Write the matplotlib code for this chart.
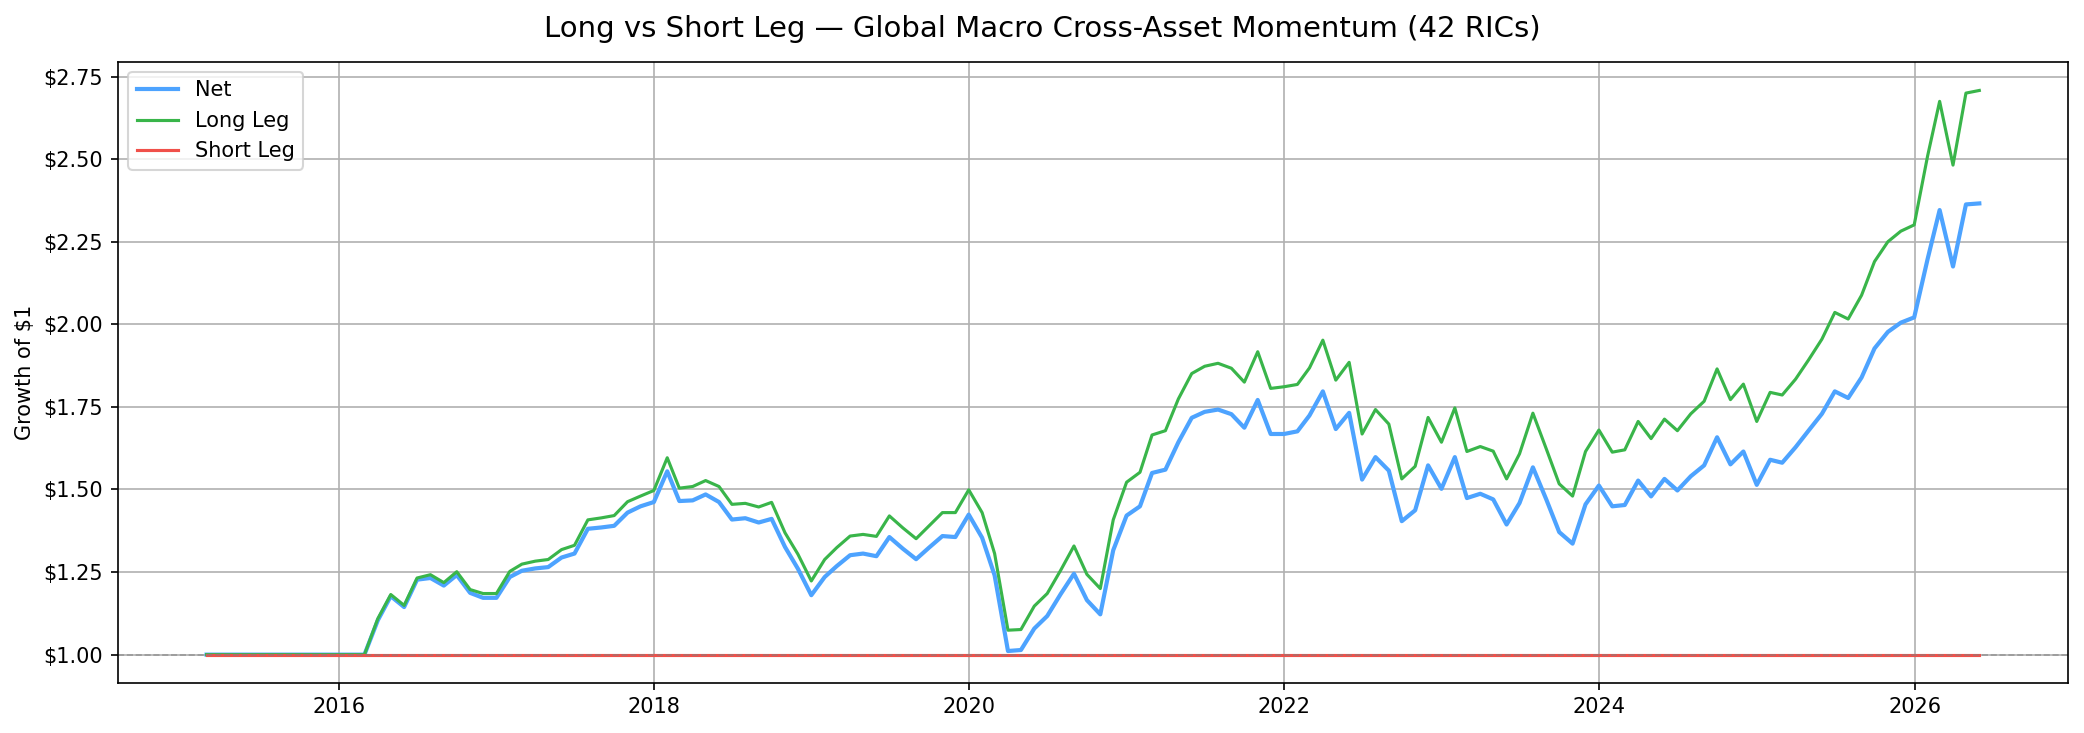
import numpy as np
import pandas as pd
import matplotlib
matplotlib.use("Agg")
import matplotlib.pyplot as plt
from matplotlib.ticker import FuncFormatter

# month-end dates, Feb 2015 .. May 2026
dates = pd.date_range("2015-02-28", "2026-05-31", freq="ME")

flat = [1.0] * 13  # Feb 2015 .. Feb 2016

long_leg = flat + [
    1.109, 1.182, 1.149, 1.232, 1.242, 1.218, 1.251, 1.197, 1.185, 1.185,  # Mar-Dec 2016
    1.252, 1.274, 1.283, 1.288, 1.318, 1.331, 1.408, 1.414, 1.421, 1.463, 1.480, 1.497,  # 2017
    1.596, 1.504, 1.509, 1.527, 1.509, 1.455, 1.458, 1.447, 1.461, 1.369, 1.304, 1.223,  # 2018
    1.288, 1.324, 1.359, 1.364, 1.358, 1.420, 1.384, 1.351, 1.390, 1.430, 1.430, 1.499,  # 2019
    1.430, 1.306, 1.074, 1.076, 1.147, 1.185, 1.255, 1.329, 1.243, 1.200, 1.408, 1.522,  # 2020
    1.552, 1.665, 1.678, 1.774, 1.851, 1.873, 1.882, 1.867, 1.825, 1.917, 1.806, 1.811,  # 2021
    1.818, 1.868, 1.952, 1.831, 1.885, 1.668, 1.742, 1.698, 1.532, 1.570, 1.718, 1.643,  # 2022
    1.747, 1.615, 1.630, 1.616, 1.532, 1.608, 1.731, 1.623, 1.517, 1.480, 1.615, 1.680,  # 2023
    1.613, 1.620, 1.706, 1.654, 1.713, 1.678, 1.729, 1.767, 1.865, 1.772, 1.819, 1.706,  # 2024
    1.794, 1.786, 1.834, 1.892, 1.955, 2.036, 2.016, 2.088, 2.190, 2.250, 2.282, 2.301,  # 2025
    2.509, 2.675, 2.482, 2.700, 2.708,  # Jan-May 2026
]

net = flat + [
    1.104, 1.177, 1.144, 1.227, 1.232, 1.209, 1.241, 1.187, 1.172, 1.172,
    1.235, 1.254, 1.261, 1.265, 1.294, 1.306, 1.381, 1.385, 1.390, 1.430, 1.449, 1.462,
    1.555, 1.465, 1.467, 1.485, 1.462, 1.409, 1.413, 1.400, 1.411, 1.326, 1.260, 1.180,
    1.235, 1.268, 1.301, 1.306, 1.298, 1.356, 1.321, 1.289, 1.324, 1.359, 1.356, 1.424,
    1.354, 1.240, 1.011, 1.014, 1.079, 1.117, 1.183, 1.245, 1.165, 1.122, 1.316, 1.421,
    1.449, 1.550, 1.560, 1.643, 1.717, 1.735, 1.742, 1.728, 1.687, 1.771, 1.668, 1.668,
    1.676, 1.724, 1.797, 1.683, 1.732, 1.530, 1.598, 1.557, 1.404, 1.437, 1.573, 1.502,
    1.598, 1.474, 1.487, 1.470, 1.394, 1.459, 1.567, 1.470, 1.371, 1.336, 1.455, 1.512,
    1.449, 1.453, 1.527, 1.479, 1.532, 1.497, 1.540, 1.573, 1.658, 1.576, 1.615, 1.514,
    1.590, 1.581, 1.628, 1.678, 1.729, 1.797, 1.777, 1.839, 1.927, 1.977, 2.005, 2.021,
    2.197, 2.346, 2.175, 2.363, 2.366,
]

short_leg = [1.0] * len(dates)

fig = plt.figure(figsize=(2084 / 150, 733 / 150), dpi=150)
ax = fig.add_axes([0.0566, 0.0686, 0.9357, 0.8472])

ax.plot(dates, net, label="Net", color="#4da3ff", linewidth=2)
ax.plot(dates, long_leg, label="Long Leg", color="#39b54a", linewidth=1.5)
ax.plot(dates, short_leg, label="Short Leg", color="#f0504a", linewidth=1.5)
ax.axhline(1.0, color="gray", linestyle="--", linewidth=0.8, alpha=0.6)

ax.set_ylim(0.915, 2.795)
ax.yaxis.set_major_formatter(FuncFormatter(lambda v, p: f"${v:.2f}"))
ax.set_ylabel("Growth of $1")
ax.grid(True)
ax.legend(loc="upper left")

fig.suptitle("Long vs Short Leg \u2014 Global Macro Cross-Asset Momentum (42 RICs)",
             fontsize=14)

fig.savefig("out.png", dpi=150)
plt.close()
